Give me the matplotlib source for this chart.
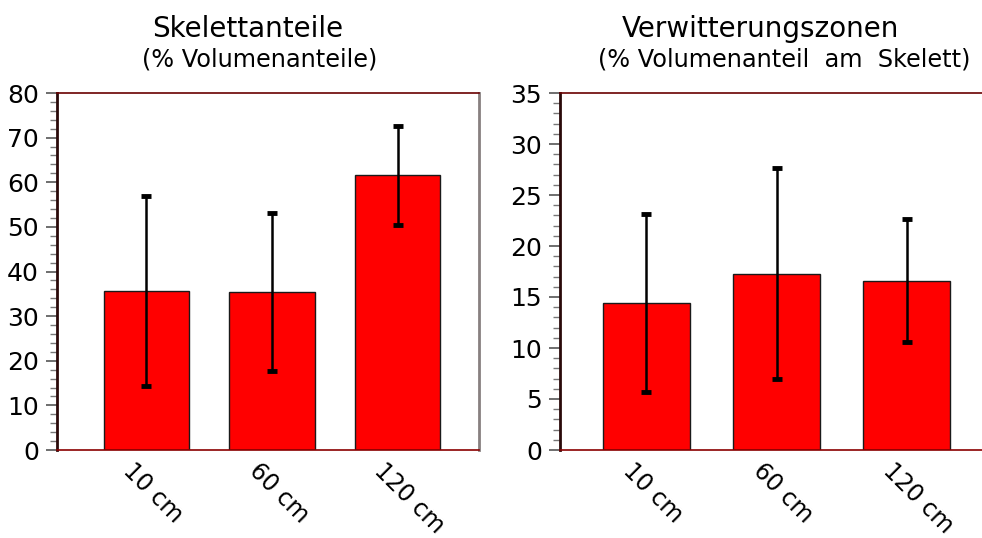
import matplotlib
matplotlib.use("Agg")
import matplotlib.pyplot as plt
from matplotlib.ticker import MultipleLocator
from matplotlib.transforms import ScaledTranslation

plt.rcParams['font.family'] = ['DejaVu Sans']

depths = ["10 cm", "60 cm", "120 cm"]

# Skelettanteile (% Volumenanteile)
skel_mean = [35.6, 35.4, 61.6]
skel_err = [21.3, 17.7, 11.1]

# Verwitterungszonen (% Volumenanteil am Skelett)
verw_mean = [14.4, 17.3, 16.6]
verw_err = [8.7, 10.3, 6.0]

W, H = 982, 538
fig = plt.figure(figsize=(W / 100, H / 100), dpi=100)

ax1 = fig.add_axes([57 / W, 88 / H, 422 / W, 357 / H])
ax2 = fig.add_axes([560 / W, 88 / H, 422 / W, 357 / H])


def draw_panel(ax, means, errs, ylim, major, minor, xlim, width, right_spine):
    x = list(range(len(depths)))
    ax.bar(x, means, width=width, color="#ff0000", edgecolor="#1a1a1a",
           linewidth=1.0, zorder=2)
    eb = ax.errorbar(x, means, yerr=errs, fmt="none", ecolor="black",
                     elinewidth=1.8, capsize=3.5, capthick=3.5, zorder=3)
    for cap in eb[1]:
        cap.set_solid_capstyle("round")
    ax.set_xlim(*xlim)
    ax.set_ylim(*ylim)
    ax.yaxis.set_major_locator(MultipleLocator(major))
    ax.yaxis.set_minor_locator(MultipleLocator(minor))
    ax.tick_params(axis="y", which="major", length=8, width=1.2,
                   color="#555555", labelsize=18, pad=5)
    ax.tick_params(axis="y", which="minor", length=5, width=1.0,
                   color="#777777")
    ax.set_xticks(x)
    ax.set_xticklabels(depths, fontsize=17, rotation=-45,
                       ha="left", va="top", rotation_mode="anchor")
    ax.tick_params(axis="x", length=0, pad=6)
    for lab in ax.get_xticklabels():
        lab.set_transform(lab.get_transform() +
                          ScaledTranslation(-11 / 100, 0, fig.dpi_scale_trans))
    ax.spines["left"].set_color("#2a0a0a")
    ax.spines["left"].set_linewidth(2.0)
    ax.spines["top"].set_color("#6a0000")
    ax.spines["top"].set_linewidth(1.2)
    ax.spines["bottom"].set_color("#8a0000")
    ax.spines["bottom"].set_linewidth(1.2)
    if right_spine:
        ax.spines["right"].set_color("#888080")
        ax.spines["right"].set_linewidth(2.0)
    else:
        ax.spines["right"].set_visible(False)


draw_panel(ax1, skel_mean, skel_err, (0, 80), 10, 2,
           (-0.713, 2.649), 0.68, True)
draw_panel(ax2, verw_mean, verw_err, (0, 35), 5, 1,
           (-0.665, 2.58), 0.67, False)

fig.text(248 / W, 1 - 37 / H, "Skelettanteile", fontsize=20,
         ha="center", va="baseline")
fig.text(260 / W, 1 - 66 / H, "(% Volumenanteile)", fontsize=17.3,
         ha="center", va="baseline")
fig.text(760 / W, 1 - 37 / H, "Verwitterungszonen", fontsize=20,
         ha="center", va="baseline")
fig.text(784 / W, 1 - 66 / H, "(% Volumenanteil  am  Skelett)", fontsize=17.3,
         ha="center", va="baseline")

fig.savefig("out.png", dpi=100)
